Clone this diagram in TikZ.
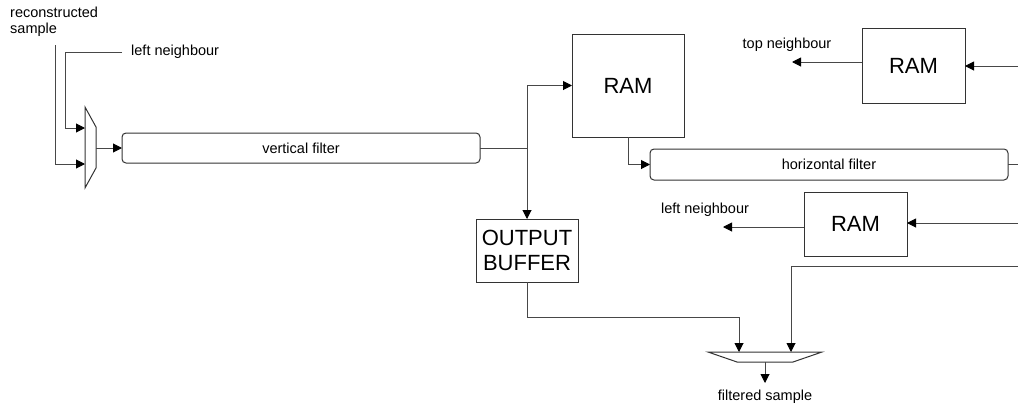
\documentclass[tikz,border=0pt]{standalone}
\usepackage{fontspec}
\setmainfont{Liberation Sans}
\usetikzlibrary{arrows.meta}
\begin{document}
\begin{tikzpicture}[x=1pt,y=-1pt,
  wire/.style={draw=black!72, line width=1pt},
  arr/.style={wire,-{Triangle[length=9pt,width=9pt,color=black]}},
  box/.style={draw=black!80, line width=1pt, fill=white, inner sep=0pt, outer sep=0pt,
    font=\fontsize{22}{25}\selectfont, align=center},
  filt/.style={box, rounded corners=4pt, font=\fontsize{14.5}{16}\selectfont},
  lbl/.style={inner sep=0pt, font=\fontsize{14.5}{16}\selectfont, align=left},
  mux/.style={draw=black!80, line width=1pt, fill=white},
]
\useasboundingbox (0,0) rectangle (1018,407);

% boxes
\node[filt, minimum width=358pt, minimum height=30pt] (vf) at (301,148) {vertical filter};
\node[box, minimum width=112pt, minimum height=103pt] (ram1) at (628,85.5) {RAM};
\node[box, minimum width=102pt, minimum height=63pt] (ob) at (527,250.5) {OUTPUT\\BUFFER};
\node[filt, minimum width=358pt, minimum height=31pt] (hf) at (829,164.5) {horizontal filter};
\node[box, minimum width=103pt, minimum height=75pt] (ram2) at (913.5,65.5) {RAM};
\node[box, minimum width=103pt, minimum height=64pt] (ram3) at (855.5,224) {RAM};

% labels
\node[lbl, anchor=north west] (rs) at (10,7) {reconstructed\\sample};
\node[lbl, anchor=west] (ln1) at (131,52) {left neighbour};
\node[lbl] (tn) at (787,45) {top neighbour};
\node[lbl] (ln2) at (705,210) {left neighbour};
\node[lbl] (fs) at (765,397) {filtered sample};

% multiplexers
\draw[mux] (85,107) -- (96,127) -- (96,168) -- (85,188) -- cycle;
\coordinate (m1a) at (85,128);
\coordinate (m1b) at (85,164);
\coordinate (m1o) at (96,148);
\draw[mux] (708,352) -- (822,352) -- (793,362) -- (737,362) -- cycle;
\coordinate (m2a) at (739,352);
\coordinate (m2b) at (791,352);
\coordinate (m2o) at (765,362);

% free ends
\coordinate (rsb) at (55,45);
\coordinate (lnb) at (65,128);
\coordinate (j1) at (527,148);
\coordinate (hfr) at (1018,164.5);
\coordinate (r2in) at (1018,66);
\coordinate (r2out) at (792,62);
\coordinate (r3in) at (1018,223);
\coordinate (r3out) at (723,227);
\coordinate (lin) at (1018,266);
\coordinate (fo) at (765,383);

% connectors
\draw[arr] (rsb) |- (m1b);
\draw[arr] ([xshift=-9pt]ln1.west) -| (lnb) -- (m1a);
\draw[arr] (m1o) -- (vf.west);
\draw[wire] (vf.east) -- (j1);
\draw[arr] (j1) |- (ram1.west);
\draw[arr] (j1) -- (ob.north);
\draw[arr] (ram1.south) |- (hf.west);
\draw[wire] (hf.east) -- (hfr);
\draw[arr] (r2in) -- (ram2.east |- r2in);
\draw[arr] (ram2.west |- r2out) -- (r2out);
\draw[arr] (r3in) -- (ram3.east |- r3in);
\draw[arr] (ram3.west |- r3out) -- (r3out);
\draw[arr] (lin) -| (m2b);
\draw[arr] (ob.south) -- ++(0,35) -| (m2a);
\draw[arr] (m2o) -- (fo);
\end{tikzpicture}
\end{document}
